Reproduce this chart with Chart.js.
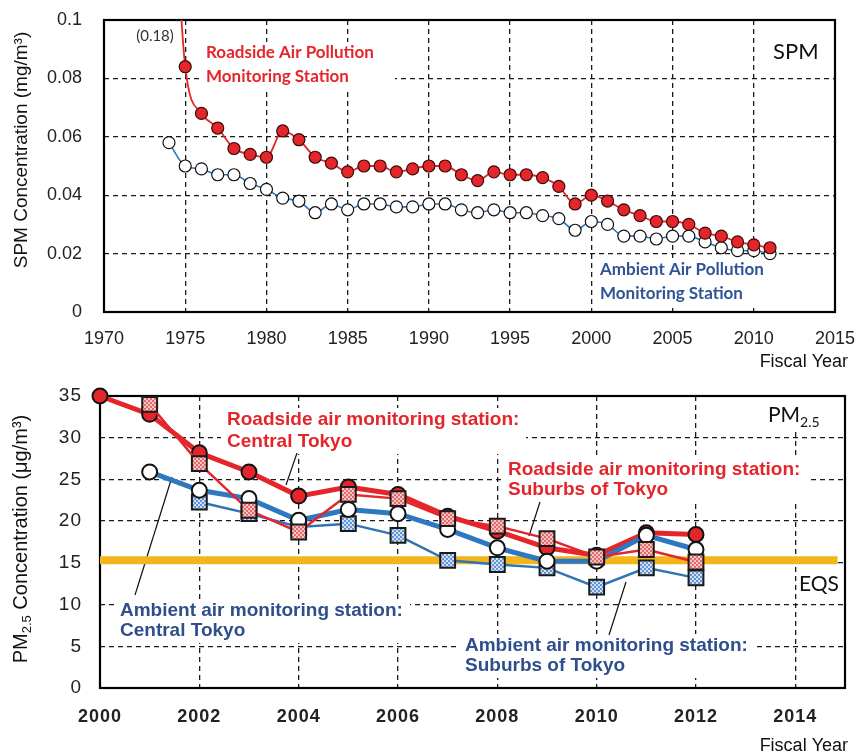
<!DOCTYPE html>
<html>
<head>
<meta charset="utf-8">
<script src="https://cdn.jsdelivr.net/npm/chart.js@4.4.1/dist/chart.umd.min.js"></script>
<style>
  html, body { margin: 0; padding: 0; background: #fff; }
  #wrap { position: relative; width: 862px; height: 755px; }
  #spm { position: absolute; left: 0; top: 0; }
  #pm { position: absolute; left: 0; top: 372px; }
</style>
</head>
<body>
<div id="wrap">
  <canvas id="spm" width="862" height="372"></canvas>
  <canvas id="pm" width="862" height="383"></canvas>
</div>
<script>
// SPM, fiscal years 1974-2011 (mg/m3)
var spmYears = [1974, 1975, 1976, 1977, 1978, 1979, 1980, 1981, 1982, 1983,
                1984, 1985, 1986, 1987, 1988, 1989, 1990, 1991, 1992, 1993,
                1994, 1995, 1996, 1997, 1998, 1999, 2000, 2001, 2002, 2003,
                2004, 2005, 2006, 2007, 2008, 2009, 2010, 2011];
var spmRoadside = [0.18, 0.084, 0.068, 0.063, 0.056, 0.054, 0.053, 0.062, 0.059, 0.053,
                   0.051, 0.048, 0.050, 0.050, 0.048, 0.049, 0.050, 0.050, 0.047, 0.045,
                   0.048, 0.047, 0.047, 0.046, 0.043, 0.037, 0.040, 0.038, 0.035, 0.033,
                   0.031, 0.031, 0.030, 0.027, 0.026, 0.024, 0.023, 0.022];
var spmAmbient = [0.058, 0.050, 0.049, 0.047, 0.047, 0.044, 0.042, 0.039, 0.038, 0.034,
                  0.037, 0.035, 0.037, 0.037, 0.036, 0.036, 0.037, 0.037, 0.035, 0.034,
                  0.035, 0.034, 0.034, 0.033, 0.032, 0.028, 0.031, 0.030, 0.026, 0.026,
                  0.025, 0.026, 0.026, 0.024, 0.022, 0.021, 0.021, 0.020];

// PM2.5, fiscal years 2000-2012 (ug/m3)
var pmYears = [2000, 2001, 2002, 2003, 2004, 2005, 2006, 2007, 2008, 2009, 2010, 2011, 2012];
var roadsideCentral = [35, 32.8, 28.2, 25.9, 23.0, 24.1, 23.2, 20.6, 18.8, 16.8, 15.9, 18.6, 18.4];
var roadsideSuburbs = [null, 34.0, 26.9, 21.3, 18.7, 23.2, 22.7, 20.3, 19.4, 17.9, 15.7, 16.6, 15.1];
var ambientCentral = [null, 25.9, 23.7, 22.7, 20.1, 21.4, 20.9, 19.0, 16.8, 15.2, 15.2, 18.3, 16.6];
var ambientSuburbs = [null, null, 22.3, 20.9, 19.3, 19.7, 18.3, 15.3, 14.8, 14.4, 12.1, 14.4, 13.2];
var pmTickYears = [2000, 2002, 2004, 2006, 2008, 2010, 2012, 2014];
var eqsYears = [2000, 2014.85];
var eqsLevel = [15.3, 15.3];

var RED = '#E4262B';
var BLUE = '#2E78C2';
var ARIAL = '"Liberation Sans", Arial, sans-serif';
var CALIBRI = 'Lato, "Open Sans", sans-serif';

function pts(xs, ys) {
  return xs.map(function (x, i) { return { x: x, y: ys[i] }; });
}

function checker(bg, fg) {
  var c = document.createElement('canvas');
  c.width = 4; c.height = 4;
  var x = c.getContext('2d');
  x.fillStyle = bg; x.fillRect(0, 0, 4, 4);
  x.fillStyle = fg; x.fillRect(0, 0, 2, 2); x.fillRect(2, 2, 2, 2);
  return x.createPattern(c, 'repeat');
}

function txt(ctx, s, x, y, font, color, align) {
  ctx.font = font;
  ctx.fillStyle = color;
  ctx.textAlign = align || 'left';
  ctx.textBaseline = 'middle';
  ctx.fillText(s, x, y);
}

function whiteBoxes(ctx, boxes) {
  ctx.fillStyle = '#fff';
  boxes.forEach(function (b) { ctx.fillRect(b[0], b[1], b[2], b[3]); });
}

function frame(chart) {
  var a = chart.chartArea, ctx = chart.ctx;
  ctx.save();
  ctx.strokeStyle = '#000';
  ctx.lineWidth = 2.2;
  ctx.strokeRect(a.left, a.top, a.right - a.left, a.bottom - a.top);
  ctx.restore();
}

// keep the plot box where the layout padding puts it
function fixX(h) {
  return function (s) { s.height = h; s.paddingLeft = 0; s.paddingRight = 0; };
}
function fixY(w) {
  return function (s) { s.width = w; s.paddingTop = 0; s.paddingBottom = 0; };
}

// ---------- top chart: SPM ----------
var spmNotes = {
  id: 'spmNotes',
  beforeDatasetsDraw: function (chart) {
    var ctx = chart.ctx;
    ctx.save();
    whiteBoxes(ctx, [[200, 42, 195, 46], [596, 258, 185, 48]]);
    frame(chart);
    txt(ctx, '(0.18)', 155, 36, '15px ' + CALIBRI, '#333', 'center');
    txt(ctx, 'Roadside Air Pollution', 206, 53, 'bold 17px ' + CALIBRI, RED);
    txt(ctx, 'Monitoring Station', 206, 77, 'bold 17px ' + CALIBRI, RED);
    txt(ctx, 'Ambient Air Pollution', 600, 270, 'bold 17px ' + CALIBRI, '#2F5496');
    txt(ctx, 'Monitoring Station', 600, 294, 'bold 17px ' + CALIBRI, '#2F5496');
    txt(ctx, 'SPM', 773, 52, '22px ' + CALIBRI, '#111');
    txt(ctx, 'Fiscal Year', 848, 362, '18px ' + ARIAL, '#111', 'right');
    ctx.translate(22, 150);
    ctx.rotate(-Math.PI / 2);
    txt(ctx, 'SPM Concentration (mg/m\u00b3)', 0, 0, '19px ' + ARIAL, '#111', 'center');
    ctx.restore();
  }
};

new Chart(document.getElementById('spm'), {
  type: 'line',
  data: {
    datasets: [
      {
        data: pts(spmYears, spmRoadside),
        borderColor: RED,
        borderWidth: 1.8,
        pointRadius: 6,
        pointBackgroundColor: RED,
        pointBorderColor: '#3a0a0a',
        pointBorderWidth: 1.2,
        cubicInterpolationMode: 'monotone'
      },
      {
        data: pts(spmYears, spmAmbient),
        borderColor: '#2E75B6',
        borderWidth: 1.6,
        pointRadius: 6,
        pointBackgroundColor: '#fff',
        pointBorderColor: '#111',
        pointBorderWidth: 1.2,
        cubicInterpolationMode: 'monotone'
      }
    ]
  },
  options: {
    responsive: false,
    animation: false,
    layout: { autoPadding: false, padding: { left: 0, top: 20, right: 27, bottom: 0 } },
    plugins: { legend: { display: false }, tooltip: { enabled: false } },
    scales: {
      x: {
        type: 'linear', min: 1970, max: 2015,
        ticks: {
          stepSize: 5, padding: 16, color: '#222', font: { family: ARIAL, size: 18 },
          callback: function (v) { return String(v); }
        },
        grid: { color: '#1a1a1a', lineWidth: 1.3, drawTicks: false },
        border: { display: false, dash: [5, 4] },
        afterFit: fixX(60)
      },
      y: {
        min: 0, max: 0.1,
        ticks: {
          stepSize: 0.02, padding: 22, color: '#222', font: { family: ARIAL, size: 18 },
          callback: function (v) { return String(parseFloat(v.toFixed(3))); }
        },
        grid: { color: '#1a1a1a', lineWidth: 1.3, drawTicks: false },
        border: { display: false, dash: [5, 4] },
        afterFit: fixY(104)
      }
    }
  },
  plugins: [spmNotes]
});

// ---------- bottom chart: PM2.5 ----------
var pinkCheck = checker('#F6C4C4', '#E26A6A');
var blueCheck = checker('#CFE0F4', '#6494D4');

var pmNotes = {
  id: 'pmNotes',
  beforeDraw: function (chart) {
    chart.ctx.letterSpacing = '1px';
  },
  beforeDatasetsDraw: function (chart) {
    var ctx = chart.ctx;
    ctx.letterSpacing = '0px';
    ctx.save();
    whiteBoxes(ctx, [[221, 36, 305, 46], [502, 86, 305, 44], [114, 227, 296, 44],
                     [459, 262, 298, 44], [765, 24, 62, 36]]);
    frame(chart);
    var bf = 'bold 19px ' + ARIAL;
    txt(ctx, 'Roadside air monitoring station:', 227, 48, bf, RED);
    txt(ctx, 'Central Tokyo', 227, 70, bf, RED);
    txt(ctx, 'Roadside air monitoring station:', 508, 98, bf, RED);
    txt(ctx, 'Suburbs of Tokyo', 508, 118, bf, RED);
    txt(ctx, 'Ambient air monitoring station:', 120, 239, bf, '#2F4E8C');
    txt(ctx, 'Central Tokyo', 120, 259, bf, '#2F4E8C');
    txt(ctx, 'Ambient air monitoring station:', 465, 274, bf, '#2F4E8C');
    txt(ctx, 'Suburbs of Tokyo', 465, 294, bf, '#2F4E8C');
    txt(ctx, 'EQS', 799, 212, '21px ' + CALIBRI, '#111');
    txt(ctx, 'Fiscal Year', 848, 374, '18px ' + ARIAL, '#111', 'right');

    // PM2.5 tag
    ctx.textBaseline = 'alphabetic';
    ctx.textAlign = 'left';
    ctx.fillStyle = '#111';
    ctx.font = '21px ' + CALIBRI;
    ctx.fillText('PM', 768, 50);
    var w = ctx.measureText('PM').width;
    ctx.font = '14px ' + CALIBRI;
    ctx.fillText('2.5', 768 + w, 55);

    // leader lines
    ctx.strokeStyle = '#111';
    ctx.lineWidth = 1.2;
    [[297, 81, 286, 113], [540, 130, 529, 164], [172, 105, 135, 223], [626, 210, 609, 263]]
      .forEach(function (l) {
        ctx.beginPath(); ctx.moveTo(l[0], l[1]); ctx.lineTo(l[2], l[3]); ctx.stroke();
      });

    // rotated axis title with sub/superscript
    ctx.translate(20, 167);
    ctx.rotate(-Math.PI / 2);
    var big = '20px ' + ARIAL, small = '13px ' + ARIAL;
    var rest = ' Concentration (\u03bcg/m\u00b3)';
    ctx.font = big; var w1 = ctx.measureText('PM').width; var w3 = ctx.measureText(rest).width;
    ctx.font = small; var w2 = ctx.measureText('2.5').width;
    var x0 = -(w1 + w2 + w3) / 2;
    ctx.fillStyle = '#111';
    ctx.font = big; ctx.fillText('PM', x0, 7);
    ctx.font = small; ctx.fillText('2.5', x0 + w1, 11);
    ctx.font = big; ctx.fillText(rest, x0 + w1 + w2, 7);
    ctx.restore();
  }
};

new Chart(document.getElementById('pm'), {
  type: 'line',
  data: {
    datasets: [
      {
        data: pts(pmYears, roadsideSuburbs),
        borderColor: RED, borderWidth: 2.5,
        pointStyle: 'rect', pointRadius: 10.5,
        pointBackgroundColor: pinkCheck, pointBorderColor: '#1a1a1a', pointBorderWidth: 2
      },
      {
        data: pts(pmYears, ambientCentral),
        borderColor: BLUE, borderWidth: 5,
        pointRadius: 7.5,
        pointBackgroundColor: '#fff', pointBorderColor: '#111', pointBorderWidth: 2
      },
      {
        data: pts(pmYears, roadsideCentral),
        borderColor: RED, borderWidth: 5,
        pointRadius: 7.5, clip: false,
        pointBackgroundColor: RED, pointBorderColor: '#111', pointBorderWidth: 2
      },
      {
        data: pts(pmYears, ambientSuburbs),
        borderColor: '#2E74B5', borderWidth: 2.5,
        pointStyle: 'rect', pointRadius: 10.5,
        pointBackgroundColor: blueCheck, pointBorderColor: '#1a1a1a', pointBorderWidth: 2
      },
      {
        data: pts(eqsYears, eqsLevel),
        borderColor: '#F2B51C', borderWidth: 8,
        pointRadius: 0
      }
    ]
  },
  options: {
    responsive: false,
    animation: false,
    layout: { autoPadding: false, padding: { left: 0, top: 24, right: 17, bottom: 0 } },
    plugins: { legend: { display: false }, tooltip: { enabled: false } },
    scales: {
      x: {
        type: 'linear', min: 2000, max: 2015,
        afterBuildTicks: function (s) {
          s.ticks = pmTickYears.map(function (v) { return { value: v }; });
        },
        ticks: {
          padding: 18, color: '#222', font: { family: ARIAL, size: 18, weight: 'bold' },
          callback: function (v) { return String(v); }
        },
        grid: { color: '#1a1a1a', lineWidth: 1.3, drawTicks: false },
        border: { display: false, dash: [5, 4] },
        afterFit: fixX(67)
      },
      y: {
        min: 0, max: 35,
        ticks: { stepSize: 5, padding: 18, color: '#222', font: { family: ARIAL, size: 19 } },
        grid: { color: '#1a1a1a', lineWidth: 1.3, drawTicks: false },
        border: { display: false, dash: [5, 4] },
        afterFit: fixY(100)
      }
    }
  },
  plugins: [pmNotes]
});
</script>
</body>
</html>
